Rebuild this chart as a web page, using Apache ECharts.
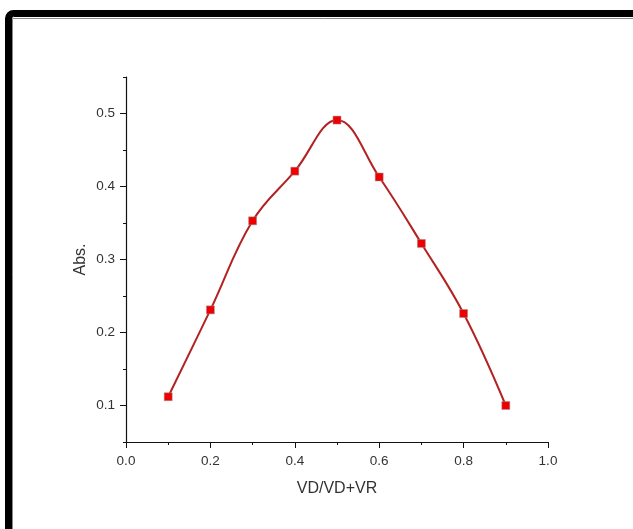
<!DOCTYPE html>
<html>
<head>
<meta charset="utf-8">
<script src="https://cdn.jsdelivr.net/npm/echarts@6/dist/echarts.min.js"></script>
<style>html,body{margin:0;padding:0;background:#fff;}#c{width:633px;height:529px;}</style>
</head>
<body>
<div id="c"></div>
<script>
const xValues = [0.1, 0.2, 0.3, 0.4, 0.5, 0.6, 0.7, 0.8, 0.9];
const absValues = [0.112, 0.231, 0.353, 0.421, 0.491, 0.413, 0.322, 0.226, 0.100];
const yMajorTicks = [0.1, 0.2, 0.3, 0.4, 0.5];
const xMajorTicks = [0, 0.2, 0.4, 0.6, 0.8, 1.0];
const xTitle = 'VD/VD+VR';
const yTitle = 'Abs.';

const chart = echarts.init(document.getElementById('c'), null, {renderer: 'canvas'});
const font = 'Liberation Sans, Arial, sans-serif';
const axisColor = '#111';
const labelColor = '#333';
const grid = {left: 126, right: 85, top: 77, bottom: 87};

chart.setOption({
  animation: false,
  backgroundColor: '#fff',
  grid: grid,
  graphic: [
    {type: 'rect', shape: {x: 8.5, y: 13.5, width: 700, height: 600, r: 5},
     style: {fill: 'none', stroke: '#000', lineWidth: 7}, silent: true, z: 10},
    {type: 'polyline', shape: {points: [[12.5, 600], [12.5, 18.5], [700, 18.5]]},
     style: {fill: 'none', stroke: '#888', lineWidth: 1}, silent: true, z: 10}
  ],
  xAxis: [{
    type: 'value', min: 0, max: 1, interval: 0.1,
    name: xTitle, nameLocation: 'middle', nameGap: 39,
    nameTextStyle: {fontFamily: font, fontSize: 16, color: labelColor},
    axisLine: {show: true, onZero: false, lineStyle: {color: axisColor, width: 1.2}},
    axisTick: {show: true, length: 3, lineStyle: {color: axisColor}},
    splitLine: {show: false},
    axisLabel: {show: false}
  }, {
    type: 'value', min: 0, max: 1, position: 'bottom',
    axisLine: {show: false},
    axisTick: {show: true, length: 6, customValues: xMajorTicks, lineStyle: {color: axisColor}},
    splitLine: {show: false},
    axisLabel: {show: true, customValues: xMajorTicks, margin: 12, fontFamily: font, fontSize: 13.5, color: labelColor,
      formatter: v => v.toFixed(1)}
  }],
  yAxis: [{
    type: 'value', min: 0.05, max: 0.55, interval: 0.05,
    name: yTitle, nameLocation: 'middle', nameGap: 37, nameRotate: 90,
    nameTextStyle: {fontFamily: font, fontSize: 16, color: labelColor},
    axisLine: {show: true, onZero: false, lineStyle: {color: axisColor, width: 1.2}},
    axisTick: {show: true, length: 3, lineStyle: {color: axisColor}},
    splitLine: {show: false},
    axisLabel: {show: false}
  }, {
    type: 'value', min: 0.05, max: 0.55, position: 'left',
    axisLine: {show: false},
    axisTick: {show: true, length: 6, customValues: yMajorTicks, lineStyle: {color: axisColor}},
    splitLine: {show: false},
    axisLabel: {show: true, customValues: yMajorTicks, margin: 11, fontFamily: font, fontSize: 13.5, color: labelColor,
      formatter: v => v.toFixed(1)}
  }],
  series: [{
    type: 'line',
    xAxisIndex: 0, yAxisIndex: 0,
    data: xValues.map((x, i) => [x, absValues[i]]),
    smooth: 0.4,
    symbol: 'rect', symbolSize: 8,
    lineStyle: {color: '#b22222', width: 2},
    itemStyle: {color: '#ee0000', borderColor: '#999', borderWidth: 0.5},
    z: 3
  }]
});
</script>
</body>
</html>
